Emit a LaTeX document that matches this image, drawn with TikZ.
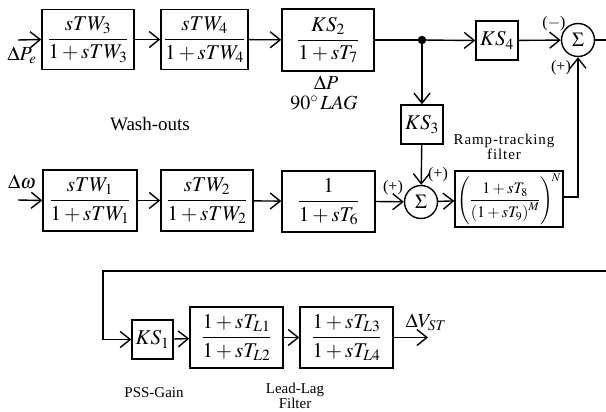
\documentclass[tikz,border=0pt]{standalone}
\usepackage{amsmath}
\usepackage{mathptmx}
\usepackage[no-math]{fontspec}
\setmainfont{Liberation Serif}
\newfontfamily\tnr{Liberation Serif}
\usetikzlibrary{arrows.meta}
\tikzset{
  blk/.style={draw, line width=1.4pt, inner sep=0pt, font=\fontsize{21}{24}\selectfont},
  sumnode/.style={draw, circle, line width=1.4pt, minimum size=33pt, inner sep=0pt, font=\fontsize{20}{24}\selectfont},
  arr/.style={line width=1.4pt, -{Straight Barb[length=10pt,width=16pt,line width=1.4pt]}},
  ln/.style={line width=1.4pt},
  lbl/.style={inner sep=0pt, font=\tnr\fontsize{20}{24}\selectfont},
  sml/.style={inner sep=0pt, font=\tnr\fontsize{15}{17}\selectfont},
  sgn/.style={inner sep=0pt, font=\tnr\fontsize{16}{18}\selectfont},
}
\begin{document}
\begin{tikzpicture}[x=1pt,y=-1pt]
\useasboundingbox (0,0) rectangle (606,412);
% top row
\node[blk, minimum width=92pt, minimum height=60pt] (w3) at (88,39.5) {$\dfrac{sTW_3}{1+sTW_3}$};
\node[blk, minimum width=87pt, minimum height=60pt] (w4) at (204.5,39.5) {$\dfrac{sTW_4}{1+sTW_4}$};
\node[blk, minimum width=92pt, minimum height=62pt] (ks2) at (328,40) {$\dfrac{KS_2}{1+sT_7}$};
\fill (422,40) circle (4.2pt);
\coordinate (dot) at (422,40);
\node[blk, minimum width=42pt, minimum height=39pt] (ks4) at (497,40.5) {$KS_4$};
\node[sumnode] (s1) at (578,40) {$\Sigma$};
\node[blk, minimum width=42pt, minimum height=39pt] (ks3) at (422,124.5) {$KS_3$};
% middle row
\node[blk, minimum width=94pt, minimum height=61pt] (w1) at (90,200.5) {$\dfrac{sTW_1}{1+sTW_1}$};
\node[blk, minimum width=92pt, minimum height=61pt] (w2) at (207,200.5) {$\dfrac{sTW_2}{1+sTW_2}$};
\node[blk, minimum width=93pt, minimum height=61pt] (t6) at (328.5,201.5) {$\dfrac{1}{1+sT_6}$};
\node[sumnode] (s2) at (421,202) {$\Sigma$};
\node[blk, minimum width=108pt, minimum height=56pt, font=\fontsize{16}{19}\selectfont] (ramp) at (509,199) {$\left(\dfrac{1+sT_8}{\left(1+sT_9\right)^M}\right)^{\!N}$};
% bottom row
\node[blk, minimum width=41pt, minimum height=39pt] (ks1) at (152.5,339.5) {$KS_1$};
\node[blk, minimum width=93pt, minimum height=61pt] (ll1) at (236.5,337.5) {$\dfrac{1+sT_{L1}}{1+sT_{L2}}$};
\node[blk, minimum width=93pt, minimum height=61pt] (ll2) at (346.5,337.5) {$\dfrac{1+sT_{L3}}{1+sT_{L4}}$};
% coordinates
\coordinate (inP) at (18,40);
\coordinate (inW) at (18,200);
\coordinate (out1) at (606,40);
\coordinate (rt) at (578,197);
\coordinate (loopR) at (606,271);
\coordinate (loopL) at (103,271);
\coordinate (loopD) at (103,339.5);
\coordinate (outV) at (428,337.5);
% connectors
\draw[arr] (inP) -- (w3.west);
\draw[arr] (w3) -- (w4);
\draw[arr] (w4) -- (ks2);
\draw[ln] (ks2.east) -- (dot);
\draw[arr] (dot) -- (ks4.west);
\draw[arr] (ks4) -- (s1);
\draw[ln] (s1.east) -- (out1);
\draw[arr] (dot) -- (ks3.north);
\draw[arr] (ks3) -- (s2);
\draw[arr] (inW) -- (w1.west);
\draw[arr] (w1) -- (w2);
\draw[arr] (w2) -- (t6);
\draw[arr] (t6.east) -- (s2);
\draw[arr] (s2) -- (ramp);
\draw[arr] (ramp.east |- rt) -- (rt) -- (s1.south);
\draw[arr] (loopR) -- (loopL) -- (loopD) -- (ks1.west);
\draw[arr] (ks1) -- (ll1);
\draw[arr] (ll1) -- (ll2);
\draw[arr] (ll2.east) -- (outV);
% labels
\node[lbl] (lPe) at (22,55) {$\Delta P_e$};
\node[lbl] (lDP) at (326,83) {$\Delta P$};
\node[lbl] (lLag) at (324,103) {$90^\circ\,LAG$};
\node[lbl, font=\tnr\fontsize{19}{22}\selectfont] (lWash) at (150,124) {Wash-outs};
\node[sgn] (sm1) at (554,24) {($-$)};
\node[sgn] (sp1) at (561,68) {(+)};
\node[lbl] (lW) at (22,182) {$\Delta\omega$};
\node[sgn] (sp2) at (393,188) {(+)};
\node[sgn] (sp3) at (438,175) {(+)};
\node[sml, align=center, font=\tnr\fontsize{15}{11}\selectfont\addfontfeature{LetterSpace=6}] (lRamp) at (504,147) {Ramp-tracking\\filter};
\node[lbl] (lV) at (426,322) {$\Delta V_{ST}$};
\node[sml] (lPSS) at (154,393) {PSS-Gain};
\node[sml, align=center, font=\tnr\fontsize{15}{15}\selectfont] (lLL) at (295,395.5) {Lead-Lag\\Filter};
\end{tikzpicture}
\end{document}
